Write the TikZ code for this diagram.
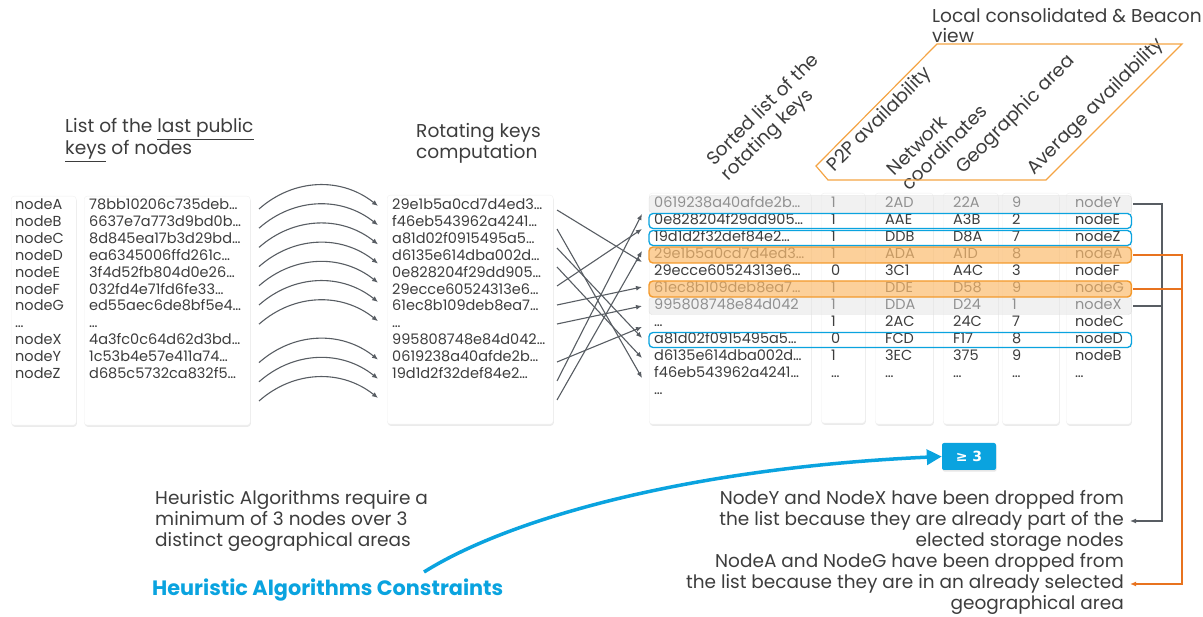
\documentclass[tikz,border=0pt]{standalone}
\usepackage{fontspec}
\setmainfont{Poppins}
\newfontfamily\symfont{DejaVu Sans}
\usetikzlibrary{arrows.meta,shadows}
\definecolor{textGray}{HTML}{3D3D3D}
\definecolor{lineGray}{HTML}{585D63}
\definecolor{keyBlue}{HTML}{0AA3DF}
\definecolor{rowOrange}{HTML}{FBBE74}
\definecolor{rowOrangeLine}{HTML}{F49A2C}
\definecolor{dropOrange}{HTML}{E8731F}
\definecolor{viewOrange}{HTML}{F4A444}
\definecolor{rowGray}{HTML}{E4E4E4}

\begin{document}
\begin{tikzpicture}[x=1pt,y=-1pt,>={Latex[length=6pt,width=5pt]},
    font=\fontsize{14.5}{16}\selectfont,text=textGray,
    column/.style={rectangle,draw=black!6,fill=white,rounded corners=3pt,anchor=north west,inner sep=0pt,
        drop shadow={shadow xshift=0.6pt,shadow yshift=-1.6pt,opacity=0.16}},
    cell/.style={inner sep=0pt,anchor=west,text height=10pt,text depth=2.8pt},
    title/.style={font=\fontsize{18.6}{21}\selectfont,align=left,inner sep=0pt},
    note/.style={font=\fontsize{18.5}{21.2}\selectfont,inner sep=0pt},
    keyArrow/.style={draw=lineGray,line width=1.1pt,->},
    grayRow/.style={draw=black!12,fill=rowGray,fill opacity=0.5,rounded corners=3pt},
    orangeRow/.style={draw=rowOrangeLine,line width=1.4pt,fill=rowOrange,fill opacity=0.72,rounded corners=4pt},
    blueRow/.style={draw=keyBlue,line width=1.3pt,rounded corners=4pt},
    dropLine/.style={line width=1.2pt,->},
    geBox/.style={rectangle,fill=keyBlue,rounded corners=2pt,minimum width=54,minimum height=27,text=white,
        font=\symfont\bfseries\fontsize{14}{16}\selectfont,drop shadow={shadow xshift=0.6pt,shadow yshift=-1.6pt,opacity=0.2}},
]
	\useasboundingbox (0,0) rectangle (1203,617);

	% columns
	\node[column,minimum width=65,minimum height=229](colNames) at(11,196){};
	\node[column,minimum width=166,minimum height=229](colKeys) at(84,196){};
	\node[column,minimum width=166,minimum height=229](colRot) at(387,195){};
	\node[column,minimum width=162,minimum height=231](colSorted) at(649,193){};
	\node[column,minimum width=44,minimum height=230](colP2P) at(821,193){};
	\node[column,minimum width=58,minimum height=231](colNet) at(875,193){};
	\node[column,minimum width=55,minimum height=231](colGeo) at(943,193){};
	\node[column,minimum width=57,minimum height=231](colAvg) at(1002,193){};
	\node[column,minimum width=65,minimum height=231](colNode) at(1066,193){};

	% titles
	\node[title,anchor=west](tList) at(65,140){List of the \underline{last public}\\\underline{keys} of nodes};
	\node[title,anchor=west](tRot) at(416,143){Rotating keys\\computation};
	\node[title,anchor=north west,font=\fontsize{18.6}{20}\selectfont](tView) at(932,8){Local consolidated \& Beacon\\view};
	\node[title,rotate=45](hSorted) at(771,118){Sorted list of the\\rotating keys};
	\node[title,rotate=45](hP2P) at(880,120){P2P availability};
	\node[title,rotate=45](hNet) at(937,140){Network\\coordinates};
	\node[title,rotate=45](hGeo) at(1016,115){Geographic area};
	\node[title,rotate=45](hAvg) at(1096,107){Average availability};
	\draw[viewOrange,line width=1.2pt](937,44)--(1182,44)--(1046,180)--(828,180)--(816,166)--cycle;

	% public keys
	\foreach \n/\k [count=\i from 0] in {nodeA/78bb10206c735deb\dots,nodeB/6637e7a773d9bd0b\dots,
	    nodeC/8d845ea17b3d29bd\dots,nodeD/ea6345006ffd261c\dots,nodeE/3f4d52fb804d0e26\dots,
	    nodeF/032fd4e71fd6fe33\dots,nodeG/ed55aec6de8bf5e4\dots,\dots/\dots,
	    nodeX/4a3fc0c64d62d3bd\dots,nodeY/1c53b4e57e411a74\dots,nodeZ/d685c5732ca832f5\dots}{
		\node[cell](nm\i) at(15,206+16.9*\i){\n};
		\node[cell](pk\i) at(89,206+16.9*\i){\k};
	}

	% rotating keys
	\foreach \k [count=\i from 0] in {29e1b5a0cd7d4ed3\dots,f46eb543962a4241\dots,a81d02f0915495a5\dots,
	    d6135e614dba002d\dots,0e828204f29dd905\dots,29ecce60524313e6\dots,61ec8b109deb8ea7\dots,
	    \dots,995808748e84d042\dots,0619238a40afde2b\dots,19d1d2f32def84e2\dots}{
		\node[cell](rk\i) at(392,206+16.9*\i){\k};
	}
	\foreach \i in {0,1,2,3,4,5,6,8,9,10}{
		\coordinate(src\i) at(259,209+19.2*\i);
		\coordinate(dst\i) at(378,206+19.2*\i);
		\draw[keyArrow](src\i) to[bend left=40](dst\i);
	}

	% sorted list and local view
	\foreach \k/\p/\n/\g/\a/\d [count=\i from 0] in {0619238a40afde2b\dots/1/2AD/22A/9/nodeY,
	    0e828204f29dd905\dots/1/AAE/A3B/2/nodeE,19d1d2f32def84e2\dots/1/DDB/D8A/7/nodeZ,
	    29e1b5a0cd7d4ed3\dots/1/ADA/A1D/8/nodeA,29ecce60524313e6\dots/0/3C1/A4C/3/nodeF,
	    61ec8b109deb8ea7\dots/1/DDE/D58/9/nodeG,995808748e84d042/1/DDA/D24/1/nodeX,
	    \dots/1/2AC/24C/7/nodeC,a81d02f0915495a5\dots/0/FCD/F17/8/nodeD,
	    d6135e614dba002d\dots/1/3EC/375/9/nodeB,f46eb543962a4241\dots/\dots/\dots/\dots/\dots/\dots}{
		\node[cell](sk\i) at(654,204+17*\i){\k};
		\node[cell](pp\i) at(831,204+17*\i){\p};
		\node[cell](nc\i) at(885,204+17*\i){\n};
		\node[cell](ga\i) at(953,204+17*\i){\g};
		\node[cell](av\i) at(1012,204+17*\i){\a};
		\node[cell](nd\i) at(1075,204+17*\i){\d};
	}
	\node[cell](sk11) at(654,391){\dots};

	\foreach \i/\a/\b in {0/210/262,1/229/378,2/248/338,3/267/358,4/286/229,
	    5/305/287,6/324/306,8/362/327,9/381/214,10/400/251}{
		\coordinate(out\i) at(557,\a);
		\coordinate(in\i) at(642,\b);
		\draw[keyArrow](out\i)--(in\i);
	}

	% highlighted rows
	\foreach \i in {0,6}
		\draw[grayRow]([yshift=8.5pt]colSorted.west |- sk\i) rectangle ([yshift=-8.5pt]colNode.east |- sk\i);
	\foreach \i in {3,5}
		\draw[orangeRow]([yshift=8pt]colSorted.west |- sk\i) rectangle ([yshift=-8pt]colNode.east |- sk\i);
	\foreach \i in {1,2,8}
		\draw[blueRow]([yshift=7.5pt]colSorted.west |- sk\i) rectangle ([yshift=-7.5pt]colNode.east |- sk\i);

	% dropped nodes
	\node[note,anchor=east,align=right](noteY) at(1124,521){NodeY and NodeX have been dropped from\\the list because they are already part of the\\elected storage nodes};
	\node[note,anchor=east,align=right](noteA) at(1124,584){NodeA and NodeG have been dropped from\\the list because they are in an already selected\\geographical area};
	\coordinate(grayX) at(1162,0);
	\coordinate(orangeX) at(1182,0);
	\draw[dropLine,lineGray]([xshift=2pt]colNode.east |- nd0)--(grayX |- nd0)|-([xshift=6pt]noteY.east);
	\draw[lineGray,line width=1.2pt]([xshift=2pt]colNode.east |- nd6)--(grayX |- nd6);
	\draw[dropLine,dropOrange]([xshift=2pt]colNode.east |- nd3)--(orangeX |- nd3)|-([xshift=6pt]noteA.east);
	\draw[dropOrange,line width=1.2pt]([xshift=2pt]colNode.east |- nd5)--(orangeX |- nd5);

	% constraints
	\node[note,anchor=west,align=left](hReq) at(155,521){Heuristic Algorithms require a\\minimum of 3 nodes over 3\\distinct geographical areas};
	\node[anchor=west,inner sep=0pt,text=keyBlue,font=\fontsize{20.8}{22}\selectfont\bfseries](hCons) at(152,590){Heuristic Algorithms Constraints};
	\node[geBox](ge) at(969,456.5){≥ 3};
	\coordinate(cStart) at(424,572);
	\draw[keyBlue,line width=3.5pt,-{Triangle[length=15pt,width=15pt]}](cStart) .. controls (510,518) and (690,468) .. (ge.west);

\end{tikzpicture}
\end{document}
